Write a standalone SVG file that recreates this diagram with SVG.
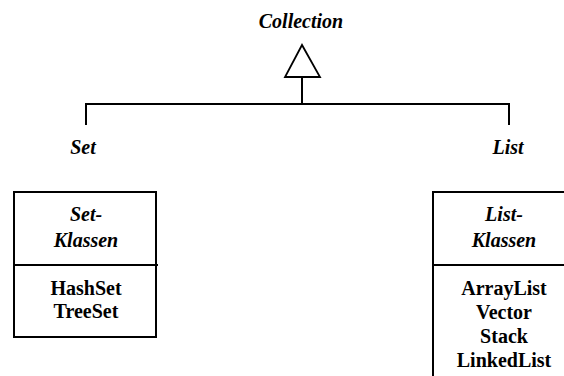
<svg xmlns="http://www.w3.org/2000/svg" width="564" height="376" viewBox="0 0 564 376">
<style>
text{font-family:'Liberation Serif','DejaVu Serif',serif;font-weight:bold;fill:#000;text-anchor:middle;font-size:20px}
.i{font-style:italic}
.l{fill:none;stroke:#000;stroke-width:2}
</style>
<rect width="564" height="376" fill="#fff"/>
<g id="collection">
<text class="i" x="301" y="28">Collection</text>
</g>
<g id="connectors">
<polygon points="302,45 285,77 320,77" fill="#fff" stroke="#000" stroke-width="1.8" stroke-linejoin="miter"/>
<line class="l" x1="302" y1="77" x2="302" y2="104"/>
<polyline class="l" points="86,125 86,104 509,104 509,125"/>
</g>
<g id="set">
<text class="i" x="83" y="154">Set</text>
</g>
<g id="list">
<text class="i" x="508" y="154">List</text>
</g>
<g id="set-klassen">
<rect class="l" x="14" y="192" width="142" height="145"/>
<line class="l" x1="14" y1="265" x2="158" y2="265"/>
<text class="i" x="86" y="221">Set-</text>
<text class="i" x="86" y="247">Klassen</text>
<text x="86" y="295">HashSet</text>
<text x="86" y="318">TreeSet</text>
</g>
<g id="list-klassen">
<rect class="l" x="433" y="192" width="142" height="200"/>
<line class="l" x1="433" y1="265" x2="564" y2="265"/>
<text class="i" x="504" y="221">List-</text>
<text class="i" x="504" y="247">Klassen</text>
<text x="504" y="295">ArrayList</text>
<text x="504" y="319">Vector</text>
<text x="504" y="343">Stack</text>
<text x="504" y="367">LinkedList</text>
</g>
</svg>
